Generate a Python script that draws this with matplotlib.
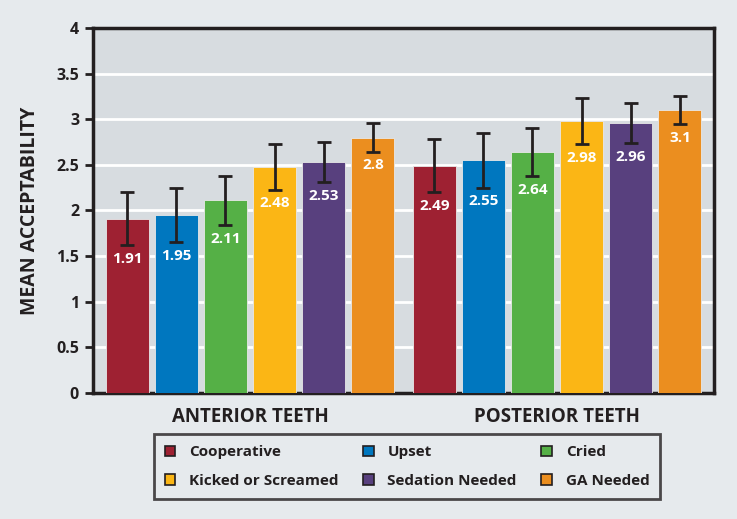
import matplotlib
matplotlib.use("Agg")
import matplotlib.pyplot as plt
from matplotlib.patches import Patch
import numpy as np

plt.rcParams['font.family'] = ['Open Sans', 'DejaVu Sans']

groups = ["ANTERIOR TEETH", "POSTERIOR TEETH"]
series = ["Cooperative", "Upset", "Cried", "Kicked or Screamed", "Sedation Needed", "GA Needed"]
colors = ["#9e2132", "#0077bf", "#55b046", "#fbb615", "#58407e", "#eb8e1f"]
anterior = [1.91, 1.95, 2.11, 2.48, 2.53, 2.8]
posterior = [2.49, 2.55, 2.64, 2.98, 2.96, 3.1]
anterior_err = [0.29, 0.30, 0.27, 0.25, 0.22, 0.155]
posterior_err = [0.29, 0.30, 0.265, 0.25, 0.22, 0.155]
yticks = [0, 0.5, 1, 1.5, 2, 2.5, 3, 3.5, 4]
ytick_labels = ["0", "0.5", "1", "1.5", "2", "2.5", "3", "3.5", "4"]

values = np.array([anterior, posterior])  # shape groups x series
errors = np.array([anterior_err, posterior_err])

fig_bg = "#e6eaed"
ax_bg = "#d7dce0"
ink = "#231f20"

fig = plt.figure(figsize=(7.37, 5.19), dpi=100, facecolor=fig_bg)
ax = fig.add_axes([0.1262, 0.2434, 0.8426, 0.7021])
ax.set_facecolor(ax_bg)

step = 0.160
width = 0.140
gx = np.arange(len(groups))
for i, (name, col) in enumerate(zip(series, colors)):
    xs = gx + (i - 2.5) * step
    vals = values[:, i]
    errs = errors[:, i]
    ax.bar(xs, vals, width=width, color=col, edgecolor="#e8e8e8", linewidth=0.6, zorder=3)
    ax.errorbar(xs, vals, yerr=errs, fmt="none", ecolor=ink, elinewidth=2,
                capsize=5, capthick=2, zorder=4)
    for x, v, e in zip(xs, vals, errs):
        ax.text(x, v - e - 0.15, f"{v:g}", ha="center", va="center", color="white",
                fontsize=11, fontweight="bold", zorder=5)

ax.set_xlim(-0.511, 1.511)
ax.set_ylim(0, 4)
ax.set_yticks(yticks)
ax.set_yticklabels(ytick_labels, fontsize=11.5, fontweight="bold", color=ink)
ax.set_xticks(gx)
ax.set_xticklabels(groups, fontsize=13.5, fontweight="bold", color=ink)
ax.tick_params(axis="x", length=0, pad=10)
ax.tick_params(axis="y", length=6, width=2, color=ink, pad=4)
ax.yaxis.grid(True, color="white", linewidth=2, zorder=0)
ax.set_axisbelow(True)
for s in ax.spines.values():
    s.set_color(ink)
    s.set_linewidth(2.5)

ax.set_ylabel("MEAN ACCEPTABILITY", fontsize=14, fontweight="bold", color=ink, labelpad=12)

order = [0, 3, 1, 4, 2, 5]
handles = [Patch(facecolor=colors[k], edgecolor=ink, linewidth=1.2, label=series[k]) for k in order]
leg = fig.legend(handles=handles, ncol=3, loc="center", bbox_to_anchor=(0.5522, 0.1012),
                 frameon=True, fancybox=False, facecolor=fig_bg, edgecolor=ink,
                 prop={"size": 11, "weight": "bold"}, handlelength=0.7, handleheight=0.7,
                 handletextpad=0.9, columnspacing=1.6, labelspacing=0.95, borderpad=0.72)
leg.get_frame().set_linewidth(2)
for t in leg.get_texts():
    t.set_color(ink)

fig.savefig("out.png", dpi=100, facecolor=fig_bg)
